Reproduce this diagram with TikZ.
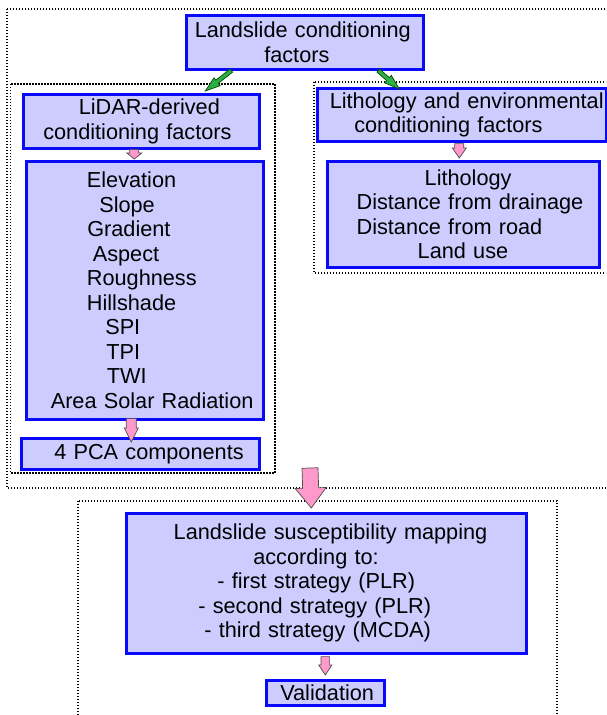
\documentclass[tikz,border=0pt]{standalone}
\usepackage{fontspec}
\setmainfont{Liberation Sans}
\usetikzlibrary{calc}
\definecolor{boxfill}{RGB}{204,204,255}
\definecolor{boxblue}{RGB}{10,10,250}
\definecolor{arrpink}{RGB}{255,153,204}
\definecolor{arrgreen}{RGB}{45,175,70}
\newcommand{\fsz}{\fontsize{21.7}{24.5}\selectfont}
\newcommand{\lineat}[2]{\hspace*{#1}\rlap{#2}}
\newcommand{\blockarr}[6]{%
  \coordinate (hb) at ($(#3)!#6!(#2)$);
  \draw[#1] ($(#2)!#4!90:(#3)$) -- ($(hb)!#4!90:(#3)$) -- ($(hb)!#5!90:(#3)$) -- (#3)
    -- ($(hb)!#5!-90:(#3)$) -- ($(hb)!#4!-90:(#3)$) -- ($(#2)!#4!-90:(#3)$) -- cycle;}
\tikzset{
  box/.style={draw=boxblue, fill=boxfill, line width=2.6pt, inner xsep=0pt, inner ysep=0pt,
    font=\fsz, align=left, anchor=north west},
  dotbox/.style={draw=black, line width=1.1pt, dash pattern=on 1.1pt off 1.9pt},
  pinkarr/.style={fill=arrpink, draw=black!70, line width=0.7pt, line join=miter},
  greenarr/.style={fill=arrgreen, draw=black!50!green!60!black, line width=0.7pt, line join=miter},
}
\begin{document}
\begin{tikzpicture}[x=1pt, y=-1pt]
\useasboundingbox (0,0) rectangle (606,715);
\begin{scope}
\clip (0,0) rectangle (606,715);
% dotted frames
\draw[dotbox] (7,9) rectangle (640,488);
\draw[dotbox] (10.5,84) rectangle (275,473);
\draw[dotbox] (314,82) rectangle (640,273);
\draw[dotbox] (78,501) rectangle (557,740);
\end{scope}
% boxes
\node[box, text width=237pt, minimum height=54pt] (top) at (185,14)
  {\lineat{8.5pt}{Landslide conditioning}\\\lineat{78pt}{factors}};
\node[box, text width=236pt, minimum height=54pt] (lidar) at (22,93)
  {\lineat{55.5pt}{LiDAR-derived}\\\lineat{20pt}{conditioning factors}};
\node[box, text width=289pt, minimum height=53pt] (lith) at (316,87)
  {\lineat{12.5pt}{Lithology and environmental}\\\lineat{37pt}{conditioning factors}};
\node[box, text width=237pt, minimum height=258pt] (list) at (25,160)
  {\lineat{60.6pt}{Elevation}\\
   \lineat{73pt}{Slope}\\
   \lineat{61pt}{Gradient}\\
   \lineat{66.5pt}{Aspect}\\
   \lineat{60.6pt}{Roughness}\\
   \lineat{60.6pt}{Hillshade}\\
   \lineat{79pt}{SPI}\\
   \lineat{80pt}{TPI}\\
   \lineat{80.5pt}{TWI}\\
   \lineat{24.5pt}{Area Solar Radiation}};
\node[box, text width=272pt, minimum height=106pt] (rlist) at (326,160)
  {\lineat{97.4pt}{Lithology}\\
   \lineat{29.3pt}{Distance from drainage}\\
   \lineat{29.3pt}{Distance from road}\\
   \lineat{90.4pt}{Land use}\par\vspace{8pt}};
\node[box, text width=238pt, minimum height=31pt] (pca) at (20,437)
  {\lineat{33pt}{4 PCA components}};
\node[box, text width=400pt, minimum height=140pt] (map) at (125,512)
  {\lineat{47.4pt}{Landslide susceptibility mapping}\\
   \lineat{127pt}{according to:}\\
   \lineat{91pt}{- first strategy (PLR)}\\
   \lineat{72pt}{- second strategy (PLR)}\\
   \lineat{78pt}{- third strategy (MCDA)}};
\node[box, text width=118pt, minimum height=25pt] (valid) at (265,679)
  {\lineat{14pt}{Validation}};
% arrow end points
\coordinate (g1s) at ($(top.south)+(-73.5,0)$);
\coordinate (g1e) at ($(lidar.north)+(64,-2)$);
\coordinate (g2s) at ($(top.south)+(73.5,0)$);
\coordinate (g2e) at ($(lith.north)+(-62.5,2)$);
\coordinate (p1s) at ($(lidar.south)+(-7,0)$);
\coordinate (p1e) at ($(list.north)+(-10.5,-1)$);
\coordinate (p2s) at ($(lith.south)+(-2.5,1)$);
\coordinate (p2e) at ($(rlist.north)+(-4,-2)$);
\coordinate (p3s) at ($(list.south)+(-13.5,-2)$);
\coordinate (p3e) at ($(pca.north)+(-9,5)$);
\coordinate (bigs) at (310,468);
\coordinate (bige) at ($(map.north)+(-15,-4)$);
\coordinate (p4s) at ($(map.south)+(-1,2)$);
\coordinate (p4e) at ($(valid.north)+(0,-4)$);
% arrows
\blockarr{greenarr}{g1s}{g1e}{2pt}{5pt}{15pt}
\blockarr{greenarr}{g2s}{g2e}{2pt}{5pt}{15pt}
\blockarr{pinkarr}{p1s}{p1e}{4.5pt}{7.5pt}{6pt}
\blockarr{pinkarr}{p2s}{p2e}{4.5pt}{7pt}{10pt}
\blockarr{pinkarr}{p3s}{p3e}{5pt}{7pt}{14pt}
\blockarr{pinkarr}{bigs}{bige}{8pt}{15.5pt}{20pt}
\blockarr{pinkarr}{p4s}{p4e}{4.3pt}{6.6pt}{10pt}
\end{tikzpicture}
\end{document}
